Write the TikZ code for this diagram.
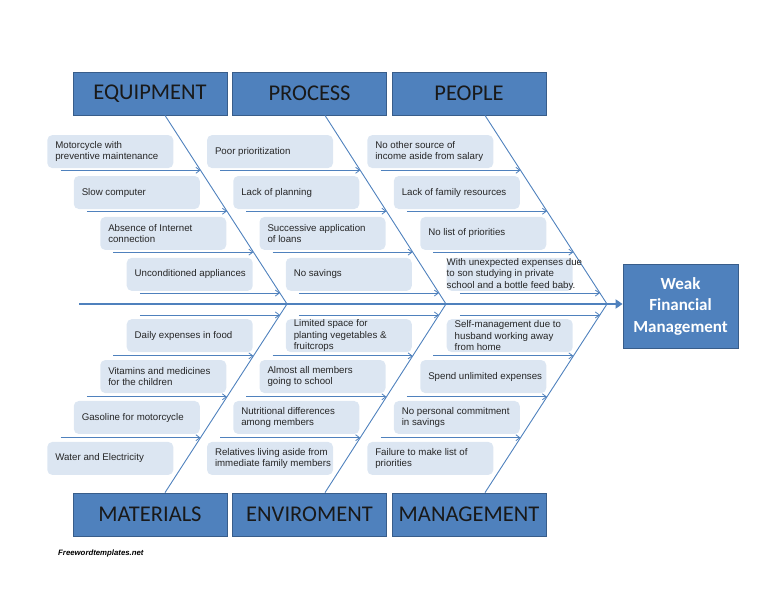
\documentclass[tikz,border=0pt]{standalone}
\usepackage{fontspec}
\setmainfont{Liberation Sans}
\newfontfamily\catfont{Carlito}
\usetikzlibrary{arrows.meta, calc, positioning}

\definecolor{boxblue}{HTML}{4F81BD}
\definecolor{boxedge}{HTML}{385D8A}
\definecolor{causefill}{HTML}{DCE6F2}
\definecolor{boneblue}{HTML}{4F81BD}

\tikzset{
  catbox/.style={fill=boxblue, draw=boxedge, line width=0.8pt, minimum width=154pt,
    minimum height=43pt, inner sep=0pt, text=black!90, font=\catfont\fontsize{22.5}{27}\selectfont},
  headbox/.style={fill=boxblue, draw=boxedge, line width=0.8pt, minimum width=115pt,
    minimum height=84pt, inner sep=0pt, align=center, text=white,
    font=\catfont\bfseries\fontsize{17}{21.5}\selectfont},
  causebox/.style={fill=causefill, rounded corners=5pt, text width=124pt, inner xsep=1pt,
    inner ysep=0pt, minimum height=33pt, align=flush left, text=black!85,
    execute at begin node={\leftskip=7pt}, font=\fontsize{9.7}{11.5}\selectfont},
  bone/.style={draw=boneblue, line width=0.9pt},
  subarrow/.style={draw=boneblue, line width=0.8pt, -{Straight Barb[length=4pt,width=6pt]}},
  spine/.style={draw=boneblue, line width=1.8pt, -{Triangle[length=7pt,width=9pt]}}
}

\begin{document}
\begin{tikzpicture}[x=1pt, y=-1pt]
\useasboundingbox (0,0) rectangle (768,594);

% Kategorien
\node[catbox] (equip) at (150,93.5) {EQUIPMENT};
\node[catbox] (proc) at (309.5,93.5) {PROCESS};
\node[catbox] (people) at (469,93.5) {PEOPLE};
\node[catbox] (mat) at (150,514.5) {MATERIALS};
\node[catbox] (env) at (309.5,514.5) {ENVIROMENT};
\node[catbox] (mgmt) at (469,514.5) {MANAGEMENT};

% Kopf
\node[headbox] (head) at (680.5,306) {Weak\\Financial\\Management};

% Hauptgraete
\coordinate (tail) at (79,304);
\draw[spine] (tail) -- (tail -| head.west);

% Graeten
\coordinate (eqT) at ($(equip.south)+(15,0)$);
\coordinate (eqS) at (287,304);
\coordinate (maB) at ($(mat.north)+(15,0)$);
\coordinate (prT) at ($(proc.south)+(15.5,0)$);
\coordinate (prS) at (446,304);
\coordinate (enB) at ($(env.north)+(15.5,0)$);
\coordinate (peT) at ($(people.south)+(16,0)$);
\coordinate (peS) at (607,304);
\coordinate (mgB) at ($(mgmt.north)+(16,0)$);

\draw[bone] (eqT) -- (eqS) -- (maB);
\draw[bone] (prT) -- (prS) -- (enB);
\draw[bone] (peT) -- (peS) -- (mgB);

% EQUIPMENT
\coordinate (eq1) at ($(eqT)!0.291!(eqS)$);
\coordinate (eq2) at ($(eqT)!0.508!(eqS)$);
\coordinate (eq3) at ($(eqT)!0.725!(eqS)$);
\coordinate (eq4) at ($(eqT)!0.942!(eqS)$);
\node[causebox, anchor=south east] (eqc1) at ($(eq1)+(-27,-2)$) {Motorcycle with\\preventive maintenance};
\node[causebox, anchor=south east] (eqc2) at ($(eq2)+(-27,-2)$) {Slow computer};
\node[causebox, anchor=south east] (eqc3) at ($(eq3)+(-27,-2)$) {Absence of Internet\\connection};
\node[causebox, anchor=south east] (eqc4) at ($(eq4)+(-27,-2)$) {Unconditioned appliances};
\draw[subarrow] ($(eq1)+(-140,0)$) -- (eq1);
\draw[subarrow] ($(eq2)+(-140,0)$) -- (eq2);
\draw[subarrow] ($(eq3)+(-140,0)$) -- (eq3);
\draw[subarrow] ($(eq4)+(-140,0)$) -- (eq4);

% PROCESS
\coordinate (pr1) at ($(prT)!0.291!(prS)$);
\coordinate (pr2) at ($(prT)!0.508!(prS)$);
\coordinate (pr3) at ($(prT)!0.725!(prS)$);
\coordinate (pr4) at ($(prT)!0.942!(prS)$);
\node[causebox, anchor=south east] (prc1) at ($(pr1)+(-27,-2)$) {Poor prioritization};
\node[causebox, anchor=south east] (prc2) at ($(pr2)+(-27,-2)$) {Lack of planning};
\node[causebox, anchor=south east] (prc3) at ($(pr3)+(-27,-2)$) {Successive application\\of loans};
\node[causebox, anchor=south east] (prc4) at ($(pr4)+(-27,-2)$) {No savings};
\draw[subarrow] ($(pr1)+(-140,0)$) -- (pr1);
\draw[subarrow] ($(pr2)+(-140,0)$) -- (pr2);
\draw[subarrow] ($(pr3)+(-140,0)$) -- (pr3);
\draw[subarrow] ($(pr4)+(-140,0)$) -- (pr4);

% PEOPLE
\coordinate (pe1) at ($(peT)!0.291!(peS)$);
\coordinate (pe2) at ($(peT)!0.508!(peS)$);
\coordinate (pe3) at ($(peT)!0.725!(peS)$);
\coordinate (pe4) at ($(peT)!0.942!(peS)$);
\node[causebox, anchor=south east] (pec1) at ($(pe1)+(-27,-2)$) {No other source of\\income aside from salary};
\node[causebox, anchor=south east] (pec2) at ($(pe2)+(-27,-2)$) {Lack of family resources};
\node[causebox, anchor=south east] (pec3) at ($(pe3)+(-27,-2)$) {No list of priorities};
\node[causebox, anchor=south east, inner xsep=0pt, text width=126pt,
  execute at begin node={\leftskip=0pt}] (pec4) at ($(pe4)+(-27,-2)$)
  {\mbox{With unexpected expenses due}\\to son studying in private\\\mbox{school and a bottle feed baby.}};
\draw[subarrow] ($(pe1)+(-140,0)$) -- (pe1);
\draw[subarrow] ($(pe2)+(-140,0)$) -- (pe2);
\draw[subarrow] ($(pe3)+(-140,0)$) -- (pe3);
\draw[subarrow] ($(pe4)+(-140,0)$) -- (pe4);

% MATERIALS
\coordinate (ma1) at ($(eqS)!0.058!(maB)$);
\coordinate (ma2) at ($(eqS)!0.275!(maB)$);
\coordinate (ma3) at ($(eqS)!0.492!(maB)$);
\coordinate (ma4) at ($(eqS)!0.709!(maB)$);
\node[causebox, anchor=north east] (mac1) at ($(ma1)+(-27,4)$) {Daily expenses in food};
\node[causebox, anchor=north east] (mac2) at ($(ma2)+(-27,4)$) {Vitamins and medicines\\for the children};
\node[causebox, anchor=north east] (mac3) at ($(ma3)+(-27,4)$) {Gasoline for motorcycle};
\node[causebox, anchor=north east] (mac4) at ($(ma4)+(-27,4)$) {Water and Electricity};
\draw[subarrow] ($(ma1)+(-140,0)$) -- (ma1);
\draw[subarrow] ($(ma2)+(-140,0)$) -- (ma2);
\draw[subarrow] ($(ma3)+(-140,0)$) -- (ma3);
\draw[subarrow] ($(ma4)+(-140,0)$) -- (ma4);

% ENVIROMENT
\coordinate (en1) at ($(prS)!0.058!(enB)$);
\coordinate (en2) at ($(prS)!0.275!(enB)$);
\coordinate (en3) at ($(prS)!0.492!(enB)$);
\coordinate (en4) at ($(prS)!0.709!(enB)$);
\node[causebox, anchor=north east] (enc1) at ($(en1)+(-27,4)$) {Limited space for\\planting vegetables \&\\fruitcrops};
\node[causebox, anchor=north east] (enc2) at ($(en2)+(-27,4)$) {Almost all members\\going to school};
\node[causebox, anchor=north east] (enc3) at ($(en3)+(-27,4)$) {Nutritional differences\\among members};
\node[causebox, anchor=north east] (enc4) at ($(en4)+(-27,4)$) {Relatives living aside from\\immediate family members};
\draw[subarrow] ($(en1)+(-140,0)$) -- (en1);
\draw[subarrow] ($(en2)+(-140,0)$) -- (en2);
\draw[subarrow] ($(en3)+(-140,0)$) -- (en3);
\draw[subarrow] ($(en4)+(-140,0)$) -- (en4);

% MANAGEMENT
\coordinate (mg1) at ($(peS)!0.058!(mgB)$);
\coordinate (mg2) at ($(peS)!0.275!(mgB)$);
\coordinate (mg3) at ($(peS)!0.492!(mgB)$);
\coordinate (mg4) at ($(peS)!0.709!(mgB)$);
\node[causebox, anchor=north east] (mgc1) at ($(mg1)+(-27,4)$) {Self-management due to\\husband working away\\from home};
\node[causebox, anchor=north east] (mgc2) at ($(mg2)+(-27,4)$) {Spend unlimited expenses};
\node[causebox, anchor=north east] (mgc3) at ($(mg3)+(-27,4)$) {No personal commitment\\in savings};
\node[causebox, anchor=north east] (mgc4) at ($(mg4)+(-27,4)$) {Failure to make list of\\priorities};
\draw[subarrow] ($(mg1)+(-140,0)$) -- (mg1);
\draw[subarrow] ($(mg2)+(-140,0)$) -- (mg2);
\draw[subarrow] ($(mg3)+(-140,0)$) -- (mg3);
\draw[subarrow] ($(mg4)+(-140,0)$) -- (mg4);

% Quelle
\node[anchor=west, inner sep=0pt, font=\bfseries\itshape\fontsize{7.8}{9}\selectfont] (src) at (58,553) {Freewordtemplates.net};

\end{tikzpicture}
\end{document}
